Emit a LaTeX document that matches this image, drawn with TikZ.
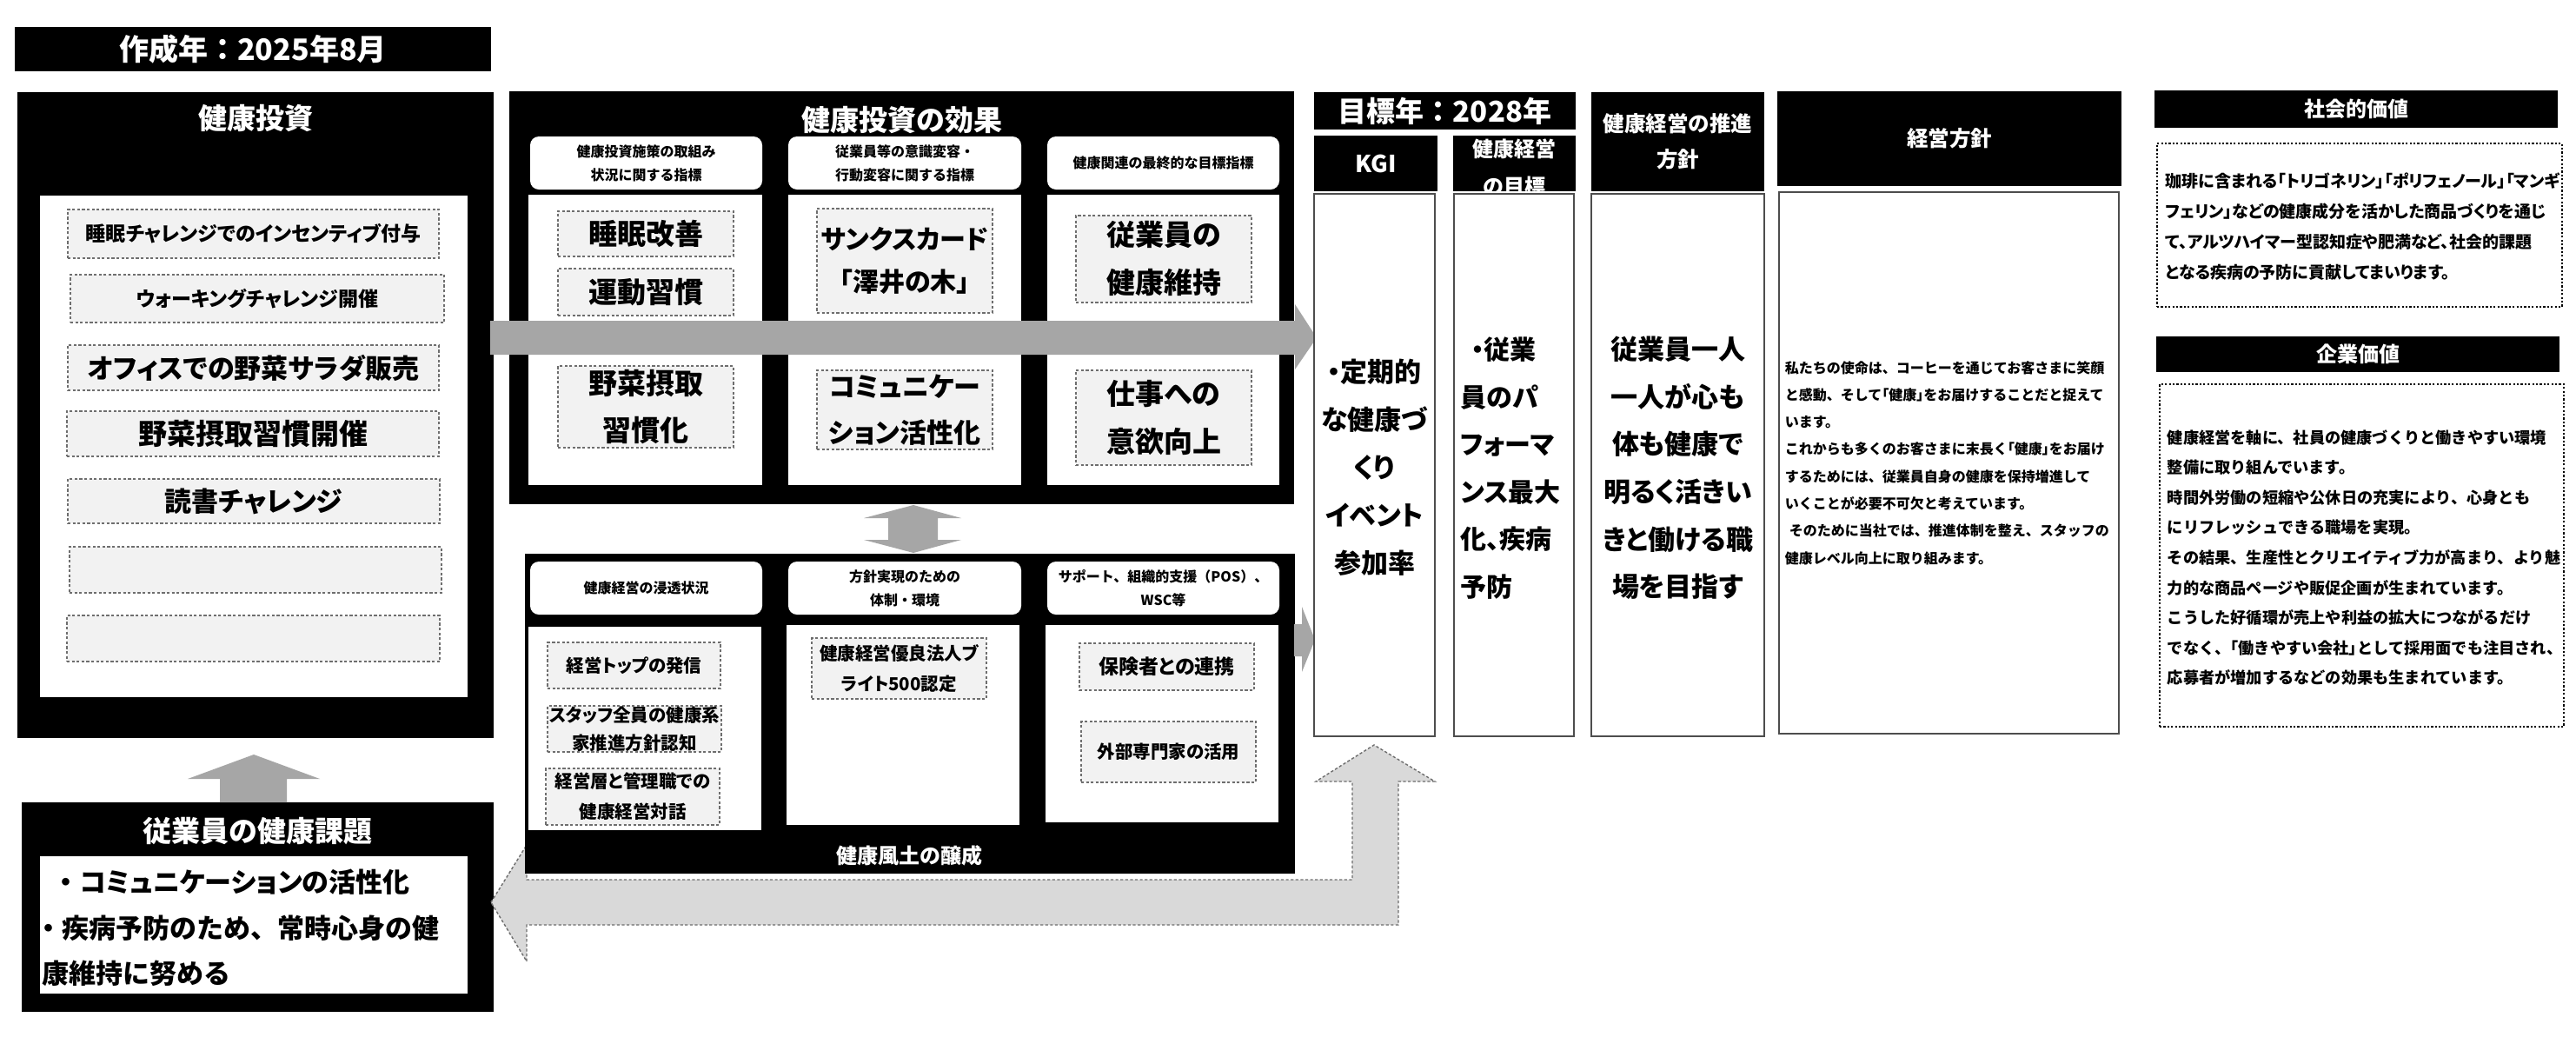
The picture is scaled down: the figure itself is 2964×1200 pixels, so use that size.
\documentclass[tikz,border=0pt]{standalone}
\usepackage{fontspec}
\setmainfont{Noto Sans CJK JP}
\newfontfamily\jpp{Noto Sans CJK JP}[RawFeature=+palt]
\definecolor{itemfill}{HTML}{F2F2F2}
\definecolor{itemline}{HTML}{6E6E6E}
\definecolor{arrowdark}{HTML}{A6A6A6}
\definecolor{arrowlight}{HTML}{D9D9D9}
\definecolor{frameline}{HTML}{4D4D4D}
\newcommand\fz[2]{\fontsize{\the\dimexpr #1pt/4\relax}{\the\dimexpr #2pt/4\relax}\selectfont\bfseries}
\newcommand\lbk{{\jpp 「}}
\newcommand\rbk{{\jpp 」}}
\newcommand\bx[7]{\node[#6, inner sep=0pt, minimum width={(#4-#2)*0.25pt}, minimum height={(#5-#3)*0.25pt}] (#1) at ({(#2+#4)/2},{(#3+#5)/2}) {#7};}
\begin{document}
\begin{tikzpicture}[x=0.25pt,y=-0.25pt,
  blk/.style={fill=black, draw=none, text=white, align=center},
  wht/.style={fill=white, draw=none},
  itm/.style={fill=itemfill, draw=itemline, line width=0.3pt, dash pattern=on 0.8pt off 0.6pt, align=center},
  hdr/.style={fill=white, draw=none, rounded corners=2.5pt, align=center},
  frm/.style={fill=white, draw=frameline, line width=0.45pt},
  dotbox/.style={fill=white, draw=black, line width=0.55pt, dash pattern=on 0.55pt off 0.55pt},
  txt/.style={inner sep=0pt, align=center},
  darr/.style={fill=arrowdark, draw=none},
  larr/.style={fill=arrowlight, draw=itemline, line width=0.35pt, dash pattern=on 0.8pt off 0.6pt}]
\useasboundingbox[fill=white] (0,0) rectangle (2964,1200);

% title
\bx{title}{17}{31}{565}{82}{blk, font={\fz{34}{40}}}{作成年：2025年8月}

% health investment
\bx{invest}{20}{106}{568}{849}{blk}{}
\node[txt, text=white, font={\fz{33}{40}}] (investT) at (294,136) {健康投資};
\bx{investW}{46}{225}{538}{802}{wht}{}
\bx{a1}{78}{241}{505}{297}{itm, font={\jpp\fz{23}{30}}}{睡眠チャレンジでのインセンティブ付与}
\bx{a2}{81}{316}{511}{371}{itm, font={\jpp\fz{23}{30}}}{ウォーキングチャレンジ開催}
\bx{a3}{78}{397}{505}{449}{itm, font={\jpp\fz{31}{36}}}{オフィスでの野菜サラダ販売}
\bx{a4}{77}{473}{505}{525}{itm, font={\jpp\fz{33}{36}}}{野菜摂取習慣開催}
\bx{a5}{78}{551}{506}{602}{itm, font={\jpp\fz{31}{36}}}{読書チャレンジ}
\bx{a6}{80}{629}{508}{682}{itm}{}
\bx{a7}{77}{708}{506}{761}{itm}{}

% employee issues
\bx{issue}{25}{923}{568}{1164}{blk}{}
\node[txt, text=white, font={\fz{33}{40}}] (issueT) at (296,956) {従業員の健康課題};
\bx{issueW}{46}{985}{538}{1143}{wht}{}
\node[txt, align=left, anchor=west, font={\fz{31}{52.5}}] (issueX) at (40,1067.5) {\hspace*{5pt}・{\jpp コミュニケーション}の活性化\\・疾病予防のため、常時心身の健\\\hspace*{2pt}康維持に努める};
\fill[darr] (292,868) -- (368,896) -- (330,896) -- (330,923) -- (253,923) -- (253,896) -- (216,896) -- cycle;

% effects
\bx{effect}{586}{105}{1489}{580}{blk}{}
\node[txt, text=white, font={\fz{33}{40}}] (effectT) at (1038,138) {健康投資の効果};
\bx{c1h}{610}{157}{877}{218}{hdr, font={\fz{16}{27}}}{健康投資施策の取組み\\状況に関する指標}
\bx{c2h}{907}{157}{1175}{218}{hdr, font={\fz{16}{27}}}{従業員等の意識変容・\\行動変容に関する指標}
\bx{c3h}{1205}{157}{1472}{218}{hdr, font={\fz{16}{27}}}{健康関連の最終的な目標指標}
\bx{c1w}{608}{224}{877}{558}{wht}{}
\bx{c2w}{907}{224}{1175}{558}{wht}{}
\bx{c3w}{1205}{224}{1472}{558}{wht}{}
\bx{e1}{642}{243}{844}{295}{itm, font={\jpp\fz{33}{54}}}{睡眠改善}
\bx{e2}{642}{309}{844}{363}{itm, font={\jpp\fz{33}{54}}}{運動習慣}
\bx{e3}{642}{421}{844}{515}{itm, font={\jpp\fz{33}{54}}}{野菜摂取\\習慣化}
\bx{e4}{940}{240}{1142}{360}{itm, font={\jpp\fz{30}{49}}}{サンクスカード\\「澤井の木」}
\bx{e5}{940}{426}{1142}{517}{itm, font={\jpp\fz{31}{53}}}{コミュニケー\\ション活性化}
\bx{e6}{1238}{248}{1440}{348}{itm, font={\jpp\fz{33}{55}}}{従業員の\\健康維持}
\bx{e7}{1238}{426}{1440}{535}{itm, font={\jpp\fz{33}{55}}}{仕事への\\意欲向上}
\fill[darr] (564,369) -- (1490,369) -- (1490,350) -- (1515,388.5) -- (1490,425) -- (1490,408) -- (564,408) -- cycle;
\fill[darr] (1051,581) -- (1106,596) -- (1079,596) -- (1079,621) -- (1106,621) -- (1051,636) -- (994,621) -- (1022,621) -- (1022,596) -- (994,596) -- cycle;

% feedback arrow
\filldraw[larr] (565,1038) -- (606,972) -- (606,1012) -- (1556,1012) -- (1556,899) -- (1514,899) -- (1581,857) -- (1651,899) -- (1609,899) -- (1609,1064) -- (606,1064) -- (606,1106) -- cycle;

% culture
\bx{culture}{604}{637}{1490}{1005}{blk}{}
\bx{d1h}{610}{646}{877}{707}{hdr, font={\fz{16}{27}}}{健康経営の浸透状況}
\bx{d2h}{907}{646}{1175}{707}{hdr, font={\fz{16}{27}}}{方針実現のための\\体制・環境}
\bx{d3h}{1205}{646}{1472}{707}{hdr, font={\fz{16}{27}}}{サポート、組織的支援（POS）、\\WSC等}
\bx{d1w}{608}{721}{876}{955}{wht}{}
\bx{d2w}{905}{719}{1173}{949}{wht}{}
\bx{d3w}{1203}{719}{1471}{946}{wht}{}
\bx{f1}{630}{739}{829}{792}{itm, font={\jpp\fz{20.5}{32}}}{経営トップの発信}
\bx{f2}{630}{812}{830}{865}{itm, font={\jpp\fz{20.5}{32}}}{スタッフ全員の健康系\\家推進方針認知}
\bx{f3}{628}{884}{828}{949}{itm, font={\jpp\fz{20.5}{35}}}{経営層と管理職での\\健康経営対話}
\bx{f4}{934}{734}{1135}{804}{itm, font={\jpp\fz{20.5}{35}}}{健康経営優良法人ブ\\ライト500認定}
\bx{f5}{1242}{740}{1443}{794}{itm, font={\jpp\fz{23}{32}}}{保険者との連携}
\bx{f6}{1244}{830}{1445}{900}{itm, font={\jpp\fz{20.5}{32}}}{外部専門家の活用}
\node[txt, text=white, font={\fz{24}{30}}] (cultureT) at (1046,984) {健康風土の醸成};
\fill[darr] (1489,718) -- (1498,718) -- (1498,698) -- (1513,736) -- (1498,773) -- (1498,755) -- (1489,755) -- cycle;

% targets
\bx{target}{1512}{106}{1813}{149}{blk, font={\fz{33}{40}}}{目標年：2028年}
\bx{kgiH}{1512}{156}{1654}{220}{blk, font={\fz{27}{32}}}{KGI}
\bx{goalH}{1672}{156}{1813}{220}{blk}{}
\begin{scope}
\clip (1672,156) rectangle (1813,220);
\node[txt, text=white, font={\fz{24}{43}}] (goalT) at (1742.5,193) {健康経営\\の目標};
\end{scope}
\bx{pushH}{1831}{106}{2030}{220}{blk, font={\fz{24.5}{41}}}{健康経営の推進\\方針}
\bx{polH}{2045}{105}{2441}{214}{blk, font={\fz{24.5}{30}}}{経営方針}
\bx{kgiW}{1512}{223}{1651}{847}{frm}{}
\bx{goalW}{1673}{223}{1811}{847}{frm}{}
\bx{pushW}{1831}{223}{2030}{847}{frm}{}
\bx{polW}{2047}{221}{2438}{844}{frm}{}
\node[txt, font={\jpp\fz{31}{55}}] (kgiX) at (1581.5,537.5) {・定期的\\な健康づ\\くり\\イベント\\参加率};
\node[txt, align=left, anchor=west, font={\jpp\fz{30}{54.6}}] (goalX) at (1680,538.5) {\hspace*{3pt}・従業\\員のパ\\フォーマ\\ンス最大\\化、疾病\\予防};
\node[txt, font={\jpp\fz{31}{54.6}}] (pushX) at (1930.5,538.5) {従業員一人\\一人が心も\\体も健康で\\明るく活きい\\きと働ける職\\場を目指す};
\node[txt, align=left, anchor=west, font={\fz{16}{31.3}}] (polX) at (2053,532.5) {私たちの使命は、コーヒーを通じてお客さまに笑顔\\と感動、そして\lbk 健康\rbk をお届けすることだと捉えて\\います。\\これからも多くのお客さまに末長く\lbk 健康\rbk をお届け\\するためには、従業員自身の健康を保持増進して\\いくことが必要不可欠と考えています。\\\hspace*{1.25pt}そのために当社では、推進体制を整え、スタッフの\\健康レベル向上に取り組みます。};

% values
\bx{socH}{2479}{104}{2943}{147}{blk, font={\fz{24}{30}}}{社会的価値}
\bx{socB}{2482}{165}{2948}{353}{dotbox}{}
\node[txt, align=left, anchor=west, font={\jpp\fz{19}{35}}] (socX) at (2491,260.5) {珈琲に含まれる「トリゴネリン」「ポリフェノール」「マンギ\\フェリン」などの健康成分を活かした商品づくりを通じ\\て、アルツハイマー型認知症や肥満など、社会的課題\\となる疾病の予防に貢献してまいります。};
\bx{corpH}{2481}{387}{2945}{428}{blk, font={\fz{24}{30}}}{企業価値}
\bx{corpB}{2485}{442}{2950}{836}{dotbox}{}
\node[txt, align=left, anchor=west, font={\fz{18.2}{34.6}}] (corpX) at (2493,641.5) {健康経営を軸に、社員の健康づくりと働きやすい環境\\整備に取り組んでいます。\\時間外労働の短縮や公休日の充実により、心身とも\\にリフレッシュできる職場を実現。\\その結果、生産性とクリエイティブ力が高まり、より魅\\力的な商品ページや販促企画が生まれています。\\こうした好循環が売上や利益の拡大につながるだけ\\でなく、\lbk 働きやすい会社\rbk として採用面でも注目され、\\応募者が増加するなどの効果も生まれています。};
\end{tikzpicture}
\end{document}
